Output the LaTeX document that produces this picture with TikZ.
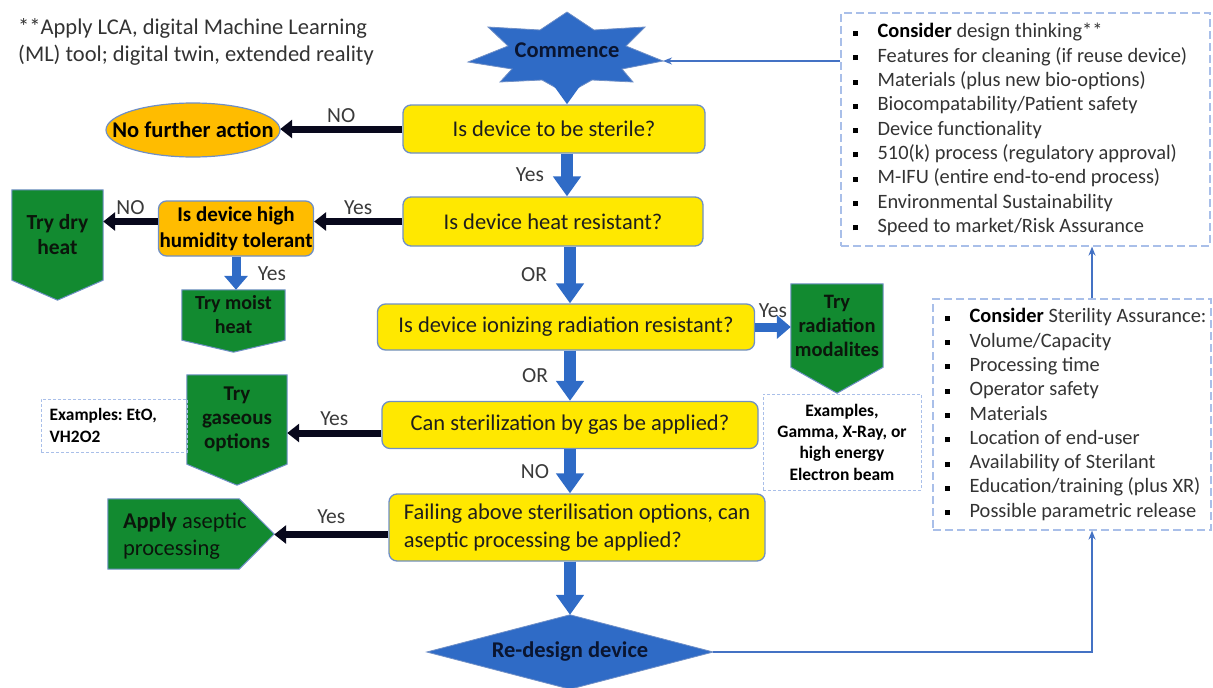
\documentclass[tikz,border=0pt]{standalone}
\usepackage{fontspec}
\setmainfont{Carlito}
\frenchspacing
\usetikzlibrary{arrows.meta}
\definecolor{yfill}{HTML}{FFE800}
\definecolor{boxline}{HTML}{6F8FC6}
\definecolor{gfill}{HTML}{128A30}
\definecolor{ofill}{HTML}{FFBC00}
\definecolor{blueA}{HTML}{2F6BC6}
\definecolor{navyblk}{HTML}{08081C}
\definecolor{thinblue}{HTML}{4472C4}
\definecolor{dashblue}{HTML}{A9BFE9}
\definecolor{txt}{HTML}{1E1E1E}
\definecolor{labtxt}{HTML}{3A3A3A}
\definecolor{listgray}{HTML}{333333}
\definecolor{darktxt}{HTML}{0A1530}
\definecolor{gtxt}{HTML}{0B160B}
\pgfdeclarelayer{bg}
\pgfsetlayers{bg,main}
\newcommand\bul{\makebox[25pt][l]{\textcolor{black}{\rule[2pt]{5pt}{5pt}}}}
\begin{document}
\begin{tikzpicture}[x=1pt,y=-1pt,
  ybox/.style={draw=boxline, line width=1.3pt, fill=yfill, rounded corners=8pt, inner sep=2pt,
    font=\fontsize{22.5}{28}\selectfont, text=txt},
  obox/.style={draw=boxline, line width=1.3pt, fill=ofill, rounded corners=8pt, inner sep=1pt,
    font=\bfseries\fontsize{21}{26}\selectfont, text=black, align=center},
  gtext/.style={inner sep=0pt, align=center, text=gtxt, font=\bfseries\fontsize{21.5}{25}\selectfont},
  gshape/.style={fill=gfill, draw=boxline, line width=1pt},
  lab/.style={font=\fontsize{21.5}{24}\selectfont, text=labtxt, inner sep=0pt},
  bluearr/.style={draw=blueA, line width=12pt, -{Triangle[width=27pt,length=20pt]}},
  smallblue/.style={draw=blueA, line width=9pt, -{Triangle[width=23pt,length=14pt]}},
  blkarr/.style={draw=navyblk, line width=7pt, -{Triangle[width=18pt,length=12pt]}},
  thinarr/.style={draw=thinblue, line width=1.6pt, -{Stealth[length=9pt,width=7pt]}},
  dboxA/.style={draw=dashblue, line width=1.2pt, dash pattern=on 8pt off 4pt, inner sep=0pt},
  dboxB/.style={draw=dashblue, line width=1pt, dash pattern=on 3pt off 2pt},
  listtext/.style={align=left, inner sep=0pt, font=\fontsize{20.4}{24.3}\selectfont, text=listgray},
  notetext/.style={align=left, inner sep=0pt, font=\fontsize{22.5}{27}\selectfont, text=listgray}]
\useasboundingbox (0,0) rectangle (1213,688);

% top-left note
\node[notetext, anchor=west] (note) at (18,41.5) {**Apply LCA, digital Machine Learning\\(ML) tool; digital twin, extended reality};

% start
\node[font=\bfseries\fontsize{22.5}{27}\selectfont, text=darktxt, minimum width=150, minimum height=60, inner sep=0pt] (commence) at (567,50) {Commence};
\coordinate (startip) at (663,61);
\begin{pgfonlayer}{bg}
\fill[blueA, draw=boxline, line width=0.8pt] (567,12) -- (594,30) -- (645,27) -- (626,46) -- (startip) -- (622,69)
  -- (633,82) -- (592,80) -- (567,94) -- (542,80) -- (500,82) -- (512,69) -- (468,62) -- (508,46)
  -- (488,27) -- (540,30) -- cycle;
\end{pgfonlayer}

% decisions
\node[ybox, minimum width=302, minimum height=48] (sterile) at (554,129) {Is device to be sterile?};
\node[ybox, minimum width=300, minimum height=49] (heat) at (553,221.5) {Is device heat resistant?};
\node[ybox, minimum width=377, minimum height=46] (rad) at (566,327) {Is device ionizing radiation resistant?};
\node[ybox, minimum width=376, minimum height=47] (gas) at (570,425) {Can sterilization by gas be applied?};
\node[ybox, minimum width=376, minimum height=67, align=left] (fail) at (577,527.5) {Failing above sterilisation options, can\\aseptic processing be applied?};
\node[obox, minimum width=152, minimum height=55] (humid) at (236,228.5) {Is device high\\humidity tolerant};

% no further action
\node[inner sep=0pt, minimum width=174, minimum height=54, font=\bfseries\fontsize{22.5}{27}\selectfont, text=black] (nofurther) at (193,130) {No further action};
\begin{pgfonlayer}{bg}
\fill[ofill, draw=boxline, line width=1.2pt] (nofurther.center) ellipse [x radius=87, y radius=27];
\end{pgfonlayer}

% green outcomes
\node[gtext, minimum width=91, minimum height=90] (dry) at (57.5,235) {Try dry\\heat};
\node[gtext, minimum width=103, minimum height=50, font=\bfseries\fontsize{20}{24}\selectfont] (moist) at (233.5,315) {Try moist\\heat};
\node[gtext, minimum width=92, minimum height=83, font=\bfseries\fontsize{20.5}{24}\selectfont] (radmod) at (837,325.5) {Try\\radiation\\modalites};
\node[gtext, minimum width=100, minimum height=89, font=\bfseries\fontsize{21}{24}\selectfont] (gasopt) at (237,419.5) {Try\\gaseous\\options};
\node[inner sep=0pt, minimum width=166, minimum height=70] (apply) at (191,534) {};
\node[inner sep=0pt, anchor=west, align=left, text=gtxt, font=\fontsize{22.5}{27}\selectfont] (applytext) at ([xshift=15pt,yshift=-2pt]apply.west) {\textbf{Apply} aseptic\\processing};
\begin{pgfonlayer}{bg}
\path[gshape] (dry.north west) -- (dry.north east) -- (dry.south east) -- ([yshift=-20pt]dry.south) -- (dry.south west) -- cycle;
\path[gshape] (moist.north west) -- (moist.north east) -- (moist.south east) -- ([yshift=-12pt]moist.south) -- (moist.south west) -- cycle;
\path[gshape] (radmod.north west) -- (radmod.north east) -- (radmod.south east) -- ([yshift=-26pt]radmod.south) -- (radmod.south west) -- cycle;
\path[gshape] (gasopt.north west) -- (gasopt.north east) -- (gasopt.south east) -- ([yshift=-21pt]gasopt.south) -- (gasopt.south west) -- cycle;
\path[gshape] (apply.north west) -- ([xshift=-35pt]apply.north east) -- (apply.east) -- ([xshift=-35pt]apply.south east) -- (apply.south west) -- cycle;
\end{pgfonlayer}

% examples
\node[dboxB, minimum width=158, minimum height=96, inner sep=0pt, align=center, text=black, font=\bfseries\fontsize{17.5}{21.3}\selectfont] (radex) at (842,442) {Examples,\\Gamma, X-Ray, or\\high energy\\Electron beam};
\begin{pgfonlayer}{bg}
\node[dboxB, minimum width=146, minimum height=53, inner sep=0pt] (gasex) at (114,425.5) {};
\end{pgfonlayer}
\node[inner sep=0pt, anchor=west, align=left, text=black, font=\bfseries\fontsize{17.4}{22}\selectfont] (gasextext) at ([xshift=9pt]gasex.west) {Examples: EtO,\\VH2O2};

% re-design
\node[inner sep=0pt, minimum width=286, minimum height=74, font=\bfseries\fontsize{22.5}{27}\selectfont, text=darktxt] (redesign) at (570,652) {Re-design device};
\begin{pgfonlayer}{bg}
\fill[blueA, draw=boxline, line width=0.8pt] (redesign.north) -- (redesign.east) -- (redesign.south) -- (redesign.west) -- cycle;
\end{pgfonlayer}

% side lists
\node[dboxA, minimum width=369, minimum height=233] (design) at (1025.5,129.5) {};
\node[listtext, anchor=west] (designlist) at ([xshift=12pt]design.west) {%
\bul\textcolor{black}{\textbf{Consider}} design thinking**\\
\bul Features for cleaning (if reuse device)\\
\bul Materials (plus new bio-options)\\
\bul Biocompatability/Patient safety\\
\bul Device functionality\\
\bul 510(k) process (regulatory approval)\\
\bul M-IFU (entire end-to-end process)\\
\bul Environmental Sustainability\\
\bul Speed to market/Risk Assurance};
\node[dboxA, minimum width=278, minimum height=231] (steril) at (1072,414.5) {};
\node[listtext, anchor=west] (sterillist) at ([xshift=12pt]steril.west) {%
\bul\textcolor{black}{\textbf{Consider}} Sterility Assurance:\\
\bul Volume/Capacity\\
\bul Processing time\\
\bul Operator safety\\
\bul Materials\\
\bul Location of end-user\\
\bul Availability of Sterilant\\
\bul Education/training (plus XR)\\
\bul Possible parametric release};
\coordinate (vline) at (1092,0);

% connectors
\draw[bluearr] (commence.south) -- (commence.south |- sterile.north);
\draw[blkarr] (sterile.west) -- (sterile.west -| nofurther.east) node[lab, midway, above=3pt] {NO};
\draw[bluearr] (sterile.south -| commence) -- (heat.north -| commence) node[lab, midway, xshift=-37pt] {Yes};
\draw[blkarr] (heat.west) -- (heat.west -| humid.east) node[lab, midway, above=3pt] {Yes};
\draw[blkarr] (humid.west |- heat.west) -- (heat.west -| dry.east) node[lab, midway, above=3pt] {NO};
\draw[smallblue] (humid.south) -- (humid.south |- moist.north) node[lab, midway, xshift=36pt] {Yes};
\draw[bluearr] (heat.south -| gas) -- (rad.north -| gas) node[lab, midway, xshift=-36pt] {OR};
\draw[smallblue] (rad.east) -- (rad.east -| radmod.west) node[lab, midway, above=5pt] {Yes};
\draw[bluearr] (rad.south -| gas) -- (gas.north) node[lab, midway, xshift=-35pt] {OR};
\draw[blkarr] ([yshift=-8pt]gas.west) -- ([yshift=-8pt]gas.west -| gasopt.east) node[lab, midway, above=4pt] {Yes};
\draw[bluearr] (gas.south) -- (fail.north -| gas) node[lab, midway, xshift=-35pt] {NO};
\draw[blkarr] ([yshift=-7pt]fail.west) -- ([yshift=-7pt]fail.west -| apply.east) node[lab, midway, above=7pt] {Yes};
\draw[bluearr] (fail.south -| redesign) -- (redesign.north);
\draw[thinarr] (redesign.east) -- (redesign.east -| vline) -- (vline |- steril.south);
\draw[thinarr] (vline |- steril.north) -- (vline |- design.south);
\draw[thinarr] (design.west |- startip) -- (startip);
\end{tikzpicture}
\end{document}
